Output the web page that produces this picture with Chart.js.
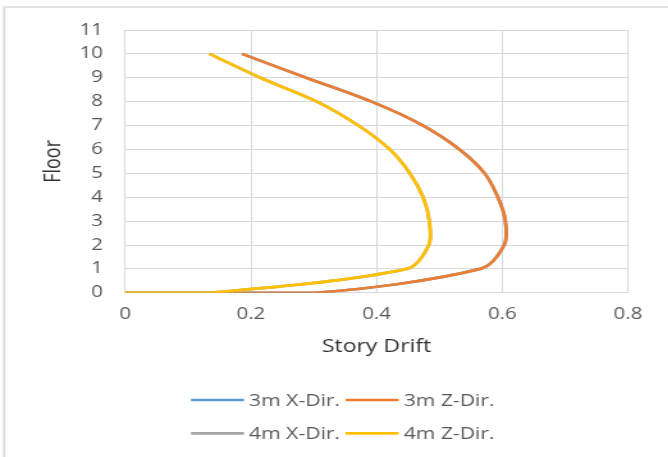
<!DOCTYPE html>
<html lang="en">
<head>
  <meta charset="UTF-8">
  <title>Story Drift</title>
  <script src="https://cdn.jsdelivr.net/npm/chart.js@4.4.1/dist/chart.umd.min.js"></script>
  <style>
    body { margin: 0; background: #fff; }
    /* the original picture is stretched sideways, so draw narrow and scale */
    #wrap { width: 522px; height: 457px; transform: scaleX(1.28); transform-origin: 0 0; }
  </style>
</head>
<body>
  <div id="wrap"><canvas id="myChart"></canvas></div>

  <script>
    // floor 0 appears twice: the lines run along the base before rising
    const floors = [0, 0, 1, 2, 3, 4, 5, 6, 7, 8, 9, 10];
    const drift3mX = [0, 0.30, 0.565, 0.603, 0.605, 0.593, 0.572, 0.532, 0.474, 0.392, 0.288, 0.186];
    const drift3mZ = [0, 0.30, 0.565, 0.603, 0.605, 0.593, 0.572, 0.532, 0.474, 0.392, 0.288, 0.186];
    const drift4mX = [0, 0.134, 0.448, 0.483, 0.484, 0.474, 0.453, 0.421, 0.371, 0.305, 0.215, 0.134];
    const drift4mZ = [0, 0.134, 0.448, 0.483, 0.484, 0.474, 0.453, 0.421, 0.371, 0.305, 0.215, 0.134];
    const seriesNames = ["3m X-Dir.", "3m Z-Dir.", "4m X-Dir.", "4m Z-Dir."];
    const seriesColors = ["#5B9BD5", "#ED7D31", "#A5A5A5", "#FFC000"];
    const xTickLabels = ["0", "0.2", "0.4", "0.6", "0.8"];
    const yTickLabels = ["0", "1", "2", "3", "4", "5", "6", "7", "8", "9", "10", "11"];

    function toPoints(drift) {
      return drift.map((d, i) => ({ x: d, y: floors[i] }));
    }

    const allDrift = [drift3mX, drift3mZ, drift4mX, drift4mZ];

    // outer chart frame (top and left edges visible)
    const framePlugin = {
      id: "frame",
      beforeDraw(chart) {
        const ctx = chart.ctx;
        ctx.save();
        ctx.strokeStyle = "#d9d9d9";
        ctx.lineWidth = 1.6;
        ctx.beginPath();
        ctx.moveTo(3.2, chart.height);
        ctx.lineTo(3.2, 7);
        ctx.lineTo(chart.width, 7);
        ctx.stroke();
        ctx.restore();
      }
    };

    // two-by-two legend under the axis title
    const legendPlugin = {
      id: "gridLegend",
      afterDraw(chart) {
        const ctx = chart.ctx;
        const cols = [149.2, 270];
        const rows = [400, 433.3];
        ctx.save();
        ctx.font = "16.5px 'Open Sans'";
        ctx.textBaseline = "middle";
        ctx.fillStyle = "#595959";
        chart.data.datasets.forEach((ds, i) => {
          const x = cols[i % 2];
          const y = rows[Math.floor(i / 2)];
          ctx.strokeStyle = ds.borderColor;
          ctx.lineWidth = 2.7;
          ctx.beginPath();
          ctx.moveTo(x, y);
          ctx.lineTo(x + 41.4, y);
          ctx.stroke();
          ctx.fillText(ds.label, x + 45.4, y + 1);
        });
        ctx.restore();
      }
    };

    new Chart("myChart", {
      type: "scatter",
      data: {
        datasets: seriesNames.map((name, i) => ({
          label: name,
          data: toPoints(allDrift[i]),
          showLine: true,
          borderColor: seriesColors[i],
          backgroundColor: seriesColors[i],
          borderWidth: 2.7,
          pointRadius: 0,
          tension: 0.3,
          order: 4 - i
        }))
      },
      options: {
        responsive: true,
        maintainAspectRatio: false,
        animation: false,
        layout: { padding: { left: 10, right: 31.4, top: 30, bottom: 90 } },
        plugins: {
          legend: { display: false },
          tooltip: { enabled: false }
        },
        scales: {
          x: {
            min: 0,
            max: 0.8,
            ticks: {
              stepSize: 0.2,
              padding: 12,
              color: "#595959",
              font: { family: "'Open Sans'", size: 16 },
              callback: (v, i) => xTickLabels[i]
            },
            grid: { color: "#d9d9d9", drawTicks: false },
            border: { color: "#d9d9d9" },
            title: {
              display: true,
              text: "Story Drift",
              color: "#333333",
              font: { family: "'Open Sans'", size: 18 },
              padding: { top: 0, bottom: 9 }
            },
            afterFit(scale) { scale.height = 74.2; }
          },
          y: {
            min: 0,
            max: 11,
            ticks: {
              stepSize: 1,
              padding: 17.3,
              color: "#595959",
              font: { family: "'Open Sans'", size: 16 },
              callback: (v, i) => yTickLabels[i]
            },
            grid: { color: "#d9d9d9", drawTicks: false },
            border: { color: "#d9d9d9" },
            title: {
              display: true,
              text: "Floor",
              color: "#333333",
              font: { family: "'Open Sans'", size: 18 },
              padding: { top: 20.6, bottom: 0 }
            },
            afterFit(scale) { scale.width = 87.8; }
          }
        }
      },
      plugins: [framePlugin, legendPlugin]
    });
  </script>
</body>
</html>
